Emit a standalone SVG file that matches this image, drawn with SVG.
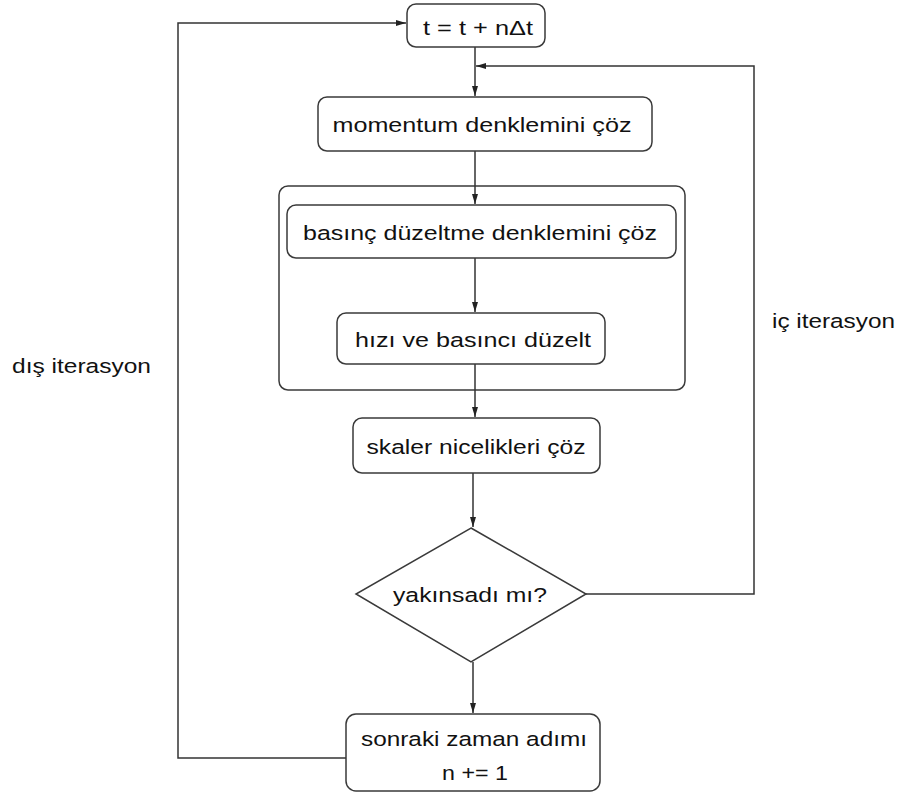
<svg xmlns="http://www.w3.org/2000/svg" width="900" height="796" viewBox="0 0 900 796">
  <defs>
    <style>
      .box { fill: #ffffff; stroke: #3a3a3a; stroke-width: 1.5; }
      .grp { fill: none; stroke: #3a3a3a; stroke-width: 1.5; }
      .ln { fill: none; stroke: #333333; stroke-width: 1.5; }
      .t { font-family: "Liberation Sans", Arial, sans-serif; font-size: 20.5px; fill: #111111; text-anchor: middle; }
      .tl { font-family: "Liberation Sans", Arial, sans-serif; font-size: 20.5px; fill: #111111; }
    </style>
    <marker id="ah" viewBox="0 0 10 6" refX="10" refY="3" markerWidth="10" markerHeight="6" markerUnits="userSpaceOnUse" orient="auto">
      <path d="M0,0 L10,3 L0,6 z" fill="#222222"/>
    </marker>
  </defs>
  <rect width="900" height="796" fill="#ffffff"/>

  <g id="group-pressure">
    <rect class="grp" x="279" y="186" width="406" height="204" rx="9"/>
  </g>

  <g id="connectors">
    <!-- top box to momentum -->
    <path class="ln" d="M475,47 L475,96" marker-end="url(#ah)"/>
    <!-- momentum to basinc -->
    <path class="ln" d="M475,151 L475,204" marker-end="url(#ah)"/>
    <!-- basinc to hizi -->
    <path class="ln" d="M475,258 L475,312" marker-end="url(#ah)"/>
    <!-- hizi to skaler -->
    <path class="ln" d="M475,364 L475,417" marker-end="url(#ah)"/>
    <!-- skaler to diamond -->
    <path class="ln" d="M473,473 L473,527" marker-end="url(#ah)"/>
    <!-- diamond to next step -->
    <path class="ln" d="M473,662 L473,713" marker-end="url(#ah)"/>
    <!-- inner iteration loop -->
    <path class="ln" d="M586,594 L754,594 L754,66 L476,66" marker-end="url(#ah)"/>
    <!-- outer iteration loop -->
    <path class="ln" d="M346,758 L178,758 L178,23 L406,23" marker-end="url(#ah)"/>
  </g>

  <g id="node-time">
    <rect class="box" x="407" y="4" width="138" height="43" rx="9"/>
    <text class="t" x="478" y="35" textLength="110" lengthAdjust="spacingAndGlyphs">t = t + nΔt</text>
  </g>

  <g id="node-momentum">
    <rect class="box" x="318" y="97" width="334" height="54" rx="9"/>
    <text class="t" x="482" y="132" textLength="299" lengthAdjust="spacingAndGlyphs">momentum denklemini çöz</text>
  </g>

  <g id="node-basinc">
    <rect class="box" x="287" y="205" width="389" height="53" rx="9"/>
    <text class="t" x="480" y="240" textLength="354" lengthAdjust="spacingAndGlyphs">basınç düzeltme denklemini çöz</text>
  </g>

  <g id="node-hizi">
    <rect class="box" x="337" y="313" width="268" height="51" rx="9"/>
    <text class="t" x="473" y="347" textLength="236" lengthAdjust="spacingAndGlyphs">hızı ve basıncı düzelt</text>
  </g>

  <g id="node-skaler">
    <rect class="box" x="353" y="418" width="247" height="55" rx="9"/>
    <text class="t" x="476" y="454" textLength="219" lengthAdjust="spacingAndGlyphs">skaler nicelikleri çöz</text>
  </g>

  <g id="node-decision">
    <polygon class="box" points="471,528 586,594 471,662 356,594"/>
    <text class="t" x="470" y="602" textLength="154" lengthAdjust="spacingAndGlyphs">yakınsadı mı?</text>
  </g>

  <g id="node-next">
    <rect class="box" x="346" y="714" width="254" height="77" rx="10"/>
    <text class="t" x="474" y="746" textLength="226" lengthAdjust="spacingAndGlyphs">sonraki zaman adımı</text>
    <text class="t" x="475" y="780" textLength="66" lengthAdjust="spacingAndGlyphs">n += 1</text>
  </g>

  <g id="labels">
    <text class="tl" x="12" y="373" textLength="139" lengthAdjust="spacingAndGlyphs">dış iterasyon</text>
    <text class="tl" x="772" y="328" textLength="123" lengthAdjust="spacingAndGlyphs">iç iterasyon</text>
  </g>
</svg>
